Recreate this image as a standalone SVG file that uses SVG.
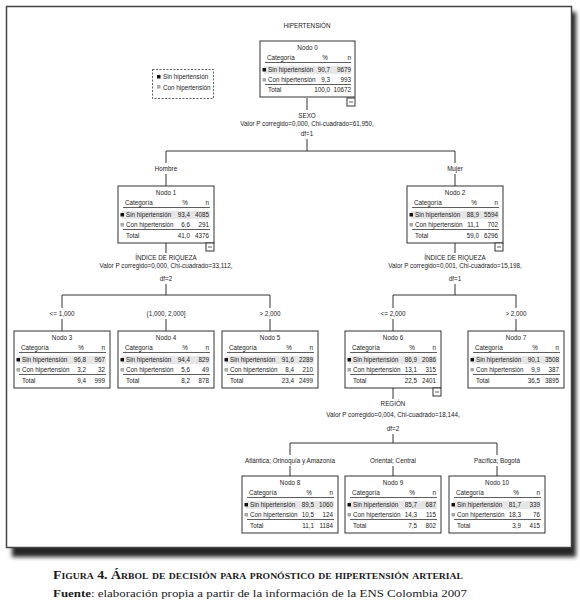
<svg xmlns="http://www.w3.org/2000/svg" width="580" height="604" viewBox="0 0 580 604">
<style>
.t{font-family:"Liberation Sans",Arial,sans-serif;font-size:6.3px;fill:#222}
.m{text-anchor:middle}
.e{text-anchor:end}
.box{fill:#fff;stroke:#333;stroke-width:1}
.ln{stroke:#333;stroke-width:0.8;fill:none}
.c{stroke:#333;stroke-width:1;fill:none}
.hl{fill:#e6e6e6}
.sq1{fill:#111}
.sq2{fill:#a8a8a8}
.cap{font-family:"Liberation Serif","Times New Roman",serif;fill:#1a1a1a}
</style>
<defs>
<filter id="sh" x="-5%" y="-5%" width="110%" height="110%"><feGaussianBlur stdDeviation="2.2"/></filter>
<g id="minus"><rect x="0" y="0" width="8" height="8" class="box"/><line x1="2" y1="4" x2="6" y2="4" class="ln"/></g>
</defs>
<rect x="0" y="0" width="580" height="604" fill="#fff"/>
<rect x="12" y="12" width="564" height="545" fill="#262626" filter="url(#sh)"/>
<rect x="6.5" y="6.5" width="565" height="541" fill="#fff" stroke="#444" stroke-width="1.5"/>

<text class="t m" x="307" y="28">HIPERTENSIÓN</text>

<g id="legend">
<rect x="152.5" y="69.5" width="61" height="29" fill="none" stroke="#333" stroke-width="0.8" stroke-dasharray="2,1.5"/>
<rect x="157" y="75" width="3.5" height="3.5" class="sq1"/>
<text class="t" x="163" y="79">Sin hipertensión</text>
<rect x="157" y="85" width="3.5" height="3.5" class="sq2"/>
<text class="t" x="163" y="89.5">Con hipertensión</text>
</g>

<g id="connectors">
<line x1="307" y1="98" x2="307" y2="110" class="c"/>
<text class="t m" x="307" y="118">SEXO</text>
<text class="t m" x="307" y="126">Valor P corregido=0,000, Chi-cuadrado=61,950,</text>
<text class="t m" x="307" y="136">df=1</text>
<polyline points="307,139 307,151" class="c"/>
<polyline points="166,163 166,151 455,151 455,163" class="c"/>
<text class="t m" x="166" y="171">Hombre</text>
<text class="t m" x="455" y="171">Mujer</text>
<line x1="166" y1="174" x2="166" y2="186" class="c"/>
<line x1="455" y1="174" x2="455" y2="186" class="c"/>

<line x1="166" y1="243" x2="166" y2="253" class="c"/>
<text class="t m" x="166" y="260">ÍNDICE DE RIQUEZA</text>
<text class="t m" x="166" y="268">Valor P corregido=0,000, Chi-cuadrado=33,112,</text>
<text class="t m" x="166" y="281">df=2</text>
<line x1="166" y1="284" x2="166" y2="295" class="c"/>
<polyline points="62,308 62,295 270,295 270,308" class="c"/>
<text class="t m" x="62" y="316">&lt;= 1,000</text>
<text class="t m" x="166" y="316">(1,000, 2,000]</text>
<text class="t m" x="270" y="316">&gt; 2,000</text>
<line x1="62" y1="319" x2="62" y2="331" class="c"/>
<line x1="166" y1="319" x2="166" y2="331" class="c"/>
<line x1="270" y1="319" x2="270" y2="331" class="c"/>

<line x1="455" y1="243" x2="455" y2="253" class="c"/>
<text class="t m" x="455" y="260">ÍNDICE DE RIQUEZA</text>
<text class="t m" x="455" y="268">Valor P corregido=0,001, Chi-cuadrado=15,198,</text>
<text class="t m" x="455" y="281">df=1</text>
<line x1="455" y1="284" x2="455" y2="295" class="c"/>
<polyline points="393,308 393,295 516,295 516,308" class="c"/>
<text class="t m" x="393" y="316">&lt;= 2,000</text>
<text class="t m" x="516" y="316">&gt; 2,000</text>
<line x1="393" y1="319" x2="393" y2="331" class="c"/>
<line x1="516" y1="319" x2="516" y2="331" class="c"/>

<line x1="393" y1="388" x2="393" y2="399" class="c"/>
<text class="t m" x="393" y="406">REGIÓN</text>
<text class="t m" x="393" y="417">Valor P corregido=0,004, Chi-cuadrado=18,144,</text>
<text class="t m" x="393" y="431">df=2</text>
<line x1="393" y1="434" x2="393" y2="443" class="c"/>
<polyline points="290,455 290,443 497,443 497,455" class="c"/>
<text class="t m" x="290" y="463">Atlántica; Orinoquía y Amazonía</text>
<text class="t m" x="393" y="463">Oriental; Central</text>
<text class="t m" x="497" y="463">Pacífica; Bogotá</text>
<line x1="290" y1="466" x2="290" y2="476" class="c"/>
<line x1="393" y1="466" x2="393" y2="476" class="c"/>
<line x1="497" y1="466" x2="497" y2="476" class="c"/>
</g>

<g id="node0" transform="translate(260,41)">
<rect x="0" y="0" width="95" height="56" class="box"/>
<text class="t m" x="47.5" y="9">Nodo 0</text>
<text class="t" x="7" y="19">Categoría</text><text class="t m" x="65" y="19">%</text><text class="t e" x="91" y="19">n</text>
<line x1="5" y1="21.5" x2="91" y2="21.5" class="ln"/>
<rect x="4" y="25" width="87" height="8" class="hl"/>
<rect x="2.5" y="27" width="3.5" height="3.5" class="sq1"/>
<text class="t" x="8" y="31">Sin hipertensión</text><text class="t e" x="70" y="31">90,7</text><text class="t e" x="91" y="31">9679</text>
<rect x="2.5" y="37" width="3.5" height="3.5" class="sq2"/>
<text class="t" x="8" y="41">Con hipertensión</text><text class="t e" x="70" y="41">9,3</text><text class="t e" x="91" y="41">993</text>
<line x1="5" y1="43.5" x2="91" y2="43.5" class="ln"/>
<text class="t" x="8" y="51">Total</text><text class="t e" x="70" y="51">100,0</text><text class="t e" x="91" y="51">10672</text>
<use href="#minus" x="87" y="57"/>
</g>

<g id="node1" transform="translate(118,186)">
<rect x="0" y="0" width="96" height="57" class="box"/>
<text class="t m" x="48" y="9">Nodo 1</text>
<text class="t" x="7" y="19">Categoría</text><text class="t m" x="67" y="19">%</text><text class="t e" x="91" y="19">n</text>
<line x1="5" y1="21.5" x2="92" y2="21.5" class="ln"/>
<rect x="4" y="25" width="88" height="8" class="hl"/>
<rect x="2.5" y="27" width="3.5" height="3.5" class="sq1"/>
<text class="t" x="8" y="31">Sin hipertensión</text><text class="t e" x="72" y="31">93,4</text><text class="t e" x="91" y="31">4085</text>
<rect x="2.5" y="37" width="3.5" height="3.5" class="sq2"/>
<text class="t" x="8" y="41">Con hipertensión</text><text class="t e" x="72" y="41">6,6</text><text class="t e" x="91" y="41">291</text>
<line x1="5" y1="43.5" x2="92" y2="43.5" class="ln"/>
<text class="t" x="8" y="52">Total</text><text class="t e" x="72" y="52">41,0</text><text class="t e" x="91" y="52">4376</text>
<use href="#minus" x="88" y="57"/>
</g>

<g id="node2" transform="translate(407,186)">
<rect x="0" y="0" width="96" height="57" class="box"/>
<text class="t m" x="48" y="9">Nodo 2</text>
<text class="t" x="7" y="19">Categoría</text><text class="t m" x="67" y="19">%</text><text class="t e" x="91" y="19">n</text>
<line x1="5" y1="21.5" x2="92" y2="21.5" class="ln"/>
<rect x="4" y="25" width="88" height="8" class="hl"/>
<rect x="2.5" y="27" width="3.5" height="3.5" class="sq1"/>
<text class="t" x="8" y="31">Sin hipertensión</text><text class="t e" x="72" y="31">88,9</text><text class="t e" x="91" y="31">5594</text>
<rect x="2.5" y="37" width="3.5" height="3.5" class="sq2"/>
<text class="t" x="8" y="41">Con hipertensión</text><text class="t e" x="72" y="41">11,1</text><text class="t e" x="91" y="41">702</text>
<line x1="5" y1="43.5" x2="92" y2="43.5" class="ln"/>
<text class="t" x="8" y="52">Total</text><text class="t e" x="72" y="52">59,0</text><text class="t e" x="91" y="52">6296</text>
<use href="#minus" x="88" y="57"/>
</g>

<g id="node3" transform="translate(14,331)">
<rect x="0" y="0" width="96" height="57" class="box"/>
<text class="t m" x="48" y="9">Nodo 3</text>
<text class="t" x="7" y="19">Categoría</text><text class="t m" x="67" y="19">%</text><text class="t e" x="91" y="19">n</text>
<line x1="5" y1="21.5" x2="92" y2="21.5" class="ln"/>
<rect x="4" y="25" width="88" height="8" class="hl"/>
<rect x="2.5" y="27" width="3.5" height="3.5" class="sq1"/>
<text class="t" x="8" y="31">Sin hipertensión</text><text class="t e" x="72" y="31">96,8</text><text class="t e" x="91" y="31">967</text>
<rect x="2.5" y="37" width="3.5" height="3.5" class="sq2"/>
<text class="t" x="8" y="41">Con hipertensión</text><text class="t e" x="72" y="41">3,2</text><text class="t e" x="91" y="41">32</text>
<line x1="5" y1="43.5" x2="92" y2="43.5" class="ln"/>
<text class="t" x="8" y="52">Total</text><text class="t e" x="72" y="52">9,4</text><text class="t e" x="91" y="52">999</text>
</g>

<g id="node4" transform="translate(118,331)">
<rect x="0" y="0" width="96" height="57" class="box"/>
<text class="t m" x="48" y="9">Nodo 4</text>
<text class="t" x="7" y="19">Categoría</text><text class="t m" x="67" y="19">%</text><text class="t e" x="91" y="19">n</text>
<line x1="5" y1="21.5" x2="92" y2="21.5" class="ln"/>
<rect x="4" y="25" width="88" height="8" class="hl"/>
<rect x="2.5" y="27" width="3.5" height="3.5" class="sq1"/>
<text class="t" x="8" y="31">Sin hipertensión</text><text class="t e" x="72" y="31">94,4</text><text class="t e" x="91" y="31">829</text>
<rect x="2.5" y="37" width="3.5" height="3.5" class="sq2"/>
<text class="t" x="8" y="41">Con hipertensión</text><text class="t e" x="72" y="41">5,6</text><text class="t e" x="91" y="41">49</text>
<line x1="5" y1="43.5" x2="92" y2="43.5" class="ln"/>
<text class="t" x="8" y="52">Total</text><text class="t e" x="72" y="52">8,2</text><text class="t e" x="91" y="52">878</text>
</g>

<g id="node5" transform="translate(222,331)">
<rect x="0" y="0" width="96" height="57" class="box"/>
<text class="t m" x="48" y="9">Nodo 5</text>
<text class="t" x="7" y="19">Categoría</text><text class="t m" x="67" y="19">%</text><text class="t e" x="91" y="19">n</text>
<line x1="5" y1="21.5" x2="92" y2="21.5" class="ln"/>
<rect x="4" y="25" width="88" height="8" class="hl"/>
<rect x="2.5" y="27" width="3.5" height="3.5" class="sq1"/>
<text class="t" x="8" y="31">Sin hipertensión</text><text class="t e" x="72" y="31">91,6</text><text class="t e" x="91" y="31">2289</text>
<rect x="2.5" y="37" width="3.5" height="3.5" class="sq2"/>
<text class="t" x="8" y="41">Con hipertensión</text><text class="t e" x="72" y="41">8,4</text><text class="t e" x="91" y="41">210</text>
<line x1="5" y1="43.5" x2="92" y2="43.5" class="ln"/>
<text class="t" x="8" y="52">Total</text><text class="t e" x="72" y="52">23,4</text><text class="t e" x="91" y="52">2499</text>
</g>

<g id="node6" transform="translate(345,331)">
<rect x="0" y="0" width="96" height="57" class="box"/>
<text class="t m" x="48" y="9">Nodo 6</text>
<text class="t" x="7" y="19">Categoría</text><text class="t m" x="67" y="19">%</text><text class="t e" x="91" y="19">n</text>
<line x1="5" y1="21.5" x2="92" y2="21.5" class="ln"/>
<rect x="4" y="25" width="88" height="8" class="hl"/>
<rect x="2.5" y="27" width="3.5" height="3.5" class="sq1"/>
<text class="t" x="8" y="31">Sin hipertensión</text><text class="t e" x="72" y="31">86,9</text><text class="t e" x="91" y="31">2086</text>
<rect x="2.5" y="37" width="3.5" height="3.5" class="sq2"/>
<text class="t" x="8" y="41">Con hipertensión</text><text class="t e" x="72" y="41">13,1</text><text class="t e" x="91" y="41">315</text>
<line x1="5" y1="43.5" x2="92" y2="43.5" class="ln"/>
<text class="t" x="8" y="52">Total</text><text class="t e" x="72" y="52">22,5</text><text class="t e" x="91" y="52">2401</text>
<use href="#minus" x="88" y="57"/>
</g>

<g id="node7" transform="translate(468,331)">
<rect x="0" y="0" width="96" height="57" class="box"/>
<text class="t m" x="48" y="9">Nodo 7</text>
<text class="t" x="7" y="19">Categoría</text><text class="t m" x="67" y="19">%</text><text class="t e" x="91" y="19">n</text>
<line x1="5" y1="21.5" x2="92" y2="21.5" class="ln"/>
<rect x="4" y="25" width="88" height="8" class="hl"/>
<rect x="2.5" y="27" width="3.5" height="3.5" class="sq1"/>
<text class="t" x="8" y="31">Sin hipertensión</text><text class="t e" x="72" y="31">90,1</text><text class="t e" x="91" y="31">3508</text>
<rect x="2.5" y="37" width="3.5" height="3.5" class="sq2"/>
<text class="t" x="8" y="41">Con hipertensión</text><text class="t e" x="72" y="41">9,9</text><text class="t e" x="91" y="41">387</text>
<line x1="5" y1="43.5" x2="92" y2="43.5" class="ln"/>
<text class="t" x="8" y="52">Total</text><text class="t e" x="72" y="52">36,5</text><text class="t e" x="91" y="52">3895</text>
</g>

<g id="node8" transform="translate(242,476)">
<rect x="0" y="0" width="96" height="57" class="box"/>
<text class="t m" x="48" y="9">Nodo 8</text>
<text class="t" x="7" y="19">Categoría</text><text class="t m" x="67" y="19">%</text><text class="t e" x="91" y="19">n</text>
<line x1="5" y1="21.5" x2="92" y2="21.5" class="ln"/>
<rect x="4" y="25" width="88" height="8" class="hl"/>
<rect x="2.5" y="27" width="3.5" height="3.5" class="sq1"/>
<text class="t" x="8" y="31">Sin hipertensión</text><text class="t e" x="72" y="31">89,5</text><text class="t e" x="91" y="31">1060</text>
<rect x="2.5" y="37" width="3.5" height="3.5" class="sq2"/>
<text class="t" x="8" y="41">Con hipertensión</text><text class="t e" x="72" y="41">10,5</text><text class="t e" x="91" y="41">124</text>
<line x1="5" y1="43.5" x2="92" y2="43.5" class="ln"/>
<text class="t" x="8" y="52">Total</text><text class="t e" x="72" y="52">11,1</text><text class="t e" x="91" y="52">1184</text>
</g>

<g id="node9" transform="translate(345,476)">
<rect x="0" y="0" width="96" height="57" class="box"/>
<text class="t m" x="48" y="9">Nodo 9</text>
<text class="t" x="7" y="19">Categoría</text><text class="t m" x="67" y="19">%</text><text class="t e" x="91" y="19">n</text>
<line x1="5" y1="21.5" x2="92" y2="21.5" class="ln"/>
<rect x="4" y="25" width="88" height="8" class="hl"/>
<rect x="2.5" y="27" width="3.5" height="3.5" class="sq1"/>
<text class="t" x="8" y="31">Sin hipertensión</text><text class="t e" x="72" y="31">85,7</text><text class="t e" x="91" y="31">687</text>
<rect x="2.5" y="37" width="3.5" height="3.5" class="sq2"/>
<text class="t" x="8" y="41">Con hipertensión</text><text class="t e" x="72" y="41">14,3</text><text class="t e" x="91" y="41">115</text>
<line x1="5" y1="43.5" x2="92" y2="43.5" class="ln"/>
<text class="t" x="8" y="52">Total</text><text class="t e" x="72" y="52">7,5</text><text class="t e" x="91" y="52">802</text>
</g>

<g id="node10" transform="translate(449,476)">
<rect x="0" y="0" width="96" height="57" class="box"/>
<text class="t m" x="48" y="9">Nodo 10</text>
<text class="t" x="7" y="19">Categoría</text><text class="t m" x="67" y="19">%</text><text class="t e" x="91" y="19">n</text>
<line x1="5" y1="21.5" x2="92" y2="21.5" class="ln"/>
<rect x="4" y="25" width="88" height="8" class="hl"/>
<rect x="2.5" y="27" width="3.5" height="3.5" class="sq1"/>
<text class="t" x="8" y="31">Sin hipertensión</text><text class="t e" x="72" y="31">81,7</text><text class="t e" x="91" y="31">339</text>
<rect x="2.5" y="37" width="3.5" height="3.5" class="sq2"/>
<text class="t" x="8" y="41">Con hipertensión</text><text class="t e" x="72" y="41">18,3</text><text class="t e" x="91" y="41">76</text>
<line x1="5" y1="43.5" x2="92" y2="43.5" class="ln"/>
<text class="t" x="8" y="52">Total</text><text class="t e" x="72" y="52">3,9</text><text class="t e" x="91" y="52">415</text>
</g>

<text class="cap" x="53" y="579" font-size="11.5" font-weight="bold" font-variant="small-caps" textLength="410" lengthAdjust="spacingAndGlyphs">Figura 4. Árbol de decisión para pronóstico de hipertensión arterial</text>
<text class="cap" x="53" y="597" font-size="11" textLength="414" lengthAdjust="spacingAndGlyphs"><tspan font-weight="bold">Fuente</tspan>: elaboración propia a partir de la información de la ENS Colombia 2007</text>
</svg>
